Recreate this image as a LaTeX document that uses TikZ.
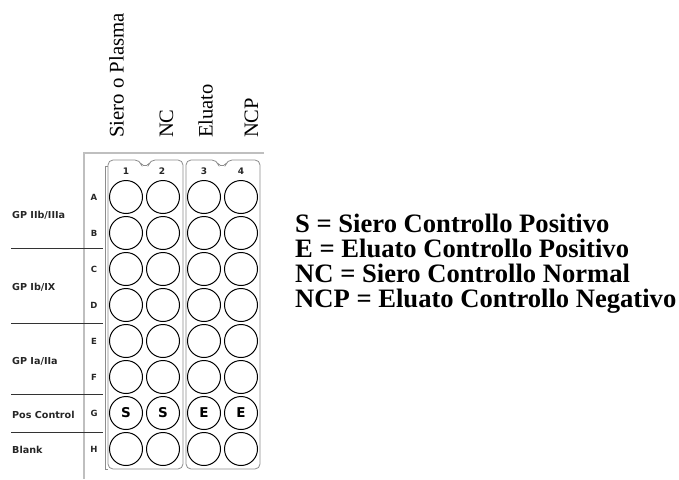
\documentclass[tikz,border=0pt]{standalone}
\usepackage{fontspec}
\setmainfont{Liberation Serif}
\newfontfamily\platefont{DejaVu Sans}
\begin{document}
\begin{tikzpicture}[x=1pt,y=-1pt,
  well/.style={draw=black,line width=1pt,circle,minimum size=33pt,inner sep=0pt,font=\platefont\bfseries\fontsize{13.5}{13.5}\selectfont},
  plab/.style={font=\platefont\bfseries\fontsize{9.6}{12}\selectfont,anchor=west,inner sep=0pt,text=black!85},
  rowlab/.style={font=\platefont\bfseries\fontsize{8.5}{10}\selectfont,inner sep=0pt,text=black!85},
  collab/.style={font=\platefont\bfseries\fontsize{9}{10}\selectfont,inner sep=0pt,text=black!85},
  divider/.style={draw=black!80,line width=1pt},
  frame/.style={draw=black!25,line width=1.3pt},
  stripline/.style={draw=black!45,line width=0.8pt},
  toplab/.style={rotate=90,anchor=base west,inner sep=0pt},
  legend/.style={font=\bfseries\fontsize{26.6}{25}\selectfont,anchor=base west,inner sep=0pt}
]
\useasboundingbox (0,0) rectangle (679,479);

% rotated column headings
\node[toplab,font=\fontsize{20.8}{20.8}\selectfont] (h1) at (123.5,138) {Siero o Plasma};
\node[toplab,font=\fontsize{20.5}{20.5}\selectfont] (h2) at (173,138) {NC};
\node[toplab,font=\fontsize{20.5}{20.5}\selectfont] (h3) at (212.5,138) {Eluato};
\node[toplab,font=\fontsize{20.5}{20.5}\selectfont] (h4) at (258,138) {NCP};

% outer frame
\draw[frame] (264,153) -- (84,153) -- (84,479);

% strip 1
\draw[stripline] (108,469) -- (108,165)
  [rounded corners=5pt] -- (108,160) -- (140,160)
  [rounded corners=2pt] -- (141.5,165.5) -- (148.5,165.5)
  [rounded corners=5pt] -- (150,160) -- (183,160) -- (183,469) -- cycle;
\draw[stripline] (108,166) -- (105,166) -- (105,469) -- (108,469);
% strip 2
\draw[stripline] (186,469)
  [rounded corners=5pt] -- (186,160) -- (217,160)
  [rounded corners=2pt] -- (218.5,165.5) -- (225.5,165.5)
  [rounded corners=5pt] -- (227,160) -- (260,160) -- (260,469) -- cycle;

% column numbers
\node[collab] (c1) at (126,171) {1};
\node[collab] (c2) at (162,171) {2};
\node[collab] (c3) at (204,171) {3};
\node[collab] (c4) at (241,171) {4};

% rows
\foreach \r/\i in {A/0,B/1,C/2,D/3,E/4,F/5,H/7}{
  \node[rowlab] (r\r) at (94,197+36*\i) {\r};
  \foreach \c/\x in {1/126,2/163,3/204,4/241}{
    \node[well] (w\r\c) at (\x,197+36*\i) {};
  }
}
\node[rowlab] (rG) at (94,413) {G};
\node[well] (wG1) at (126,413) {S};
\node[well] (wG2) at (163,413) {S};
\node[well] (wG3) at (204,413) {E};
\node[well] (wG4) at (241,413) {E};

% group labels and dividers
\node[plab] (g1) at (12,215) {GP IIb/IIIa};
\node[plab] (g2) at (12,287) {GP Ib/IX};
\node[plab] (g3) at (12,361) {GP Ia/IIa};
\node[plab] (g4) at (12,415) {Pos Control};
\node[plab] (g5) at (12,450) {Blank};
\draw[divider] (11,248) -- (103,248);
\draw[divider] (11,323) -- (103,323);
\draw[divider] (11,394) -- (103,394);
\draw[divider] (11,432) -- (103,432);

% legend
\node[legend] (l1) at (295,232.5) {S = Siero Controllo Positivo};
\node[legend] (l2) at (295,257.5) {E = Eluato Controllo Positivo};
\node[legend] (l3) at (295,282.5) {NC = Siero Controllo Normal};
\node[legend] (l4) at (295,307.5) {NCP = Eluato Controllo Negativo};
\end{tikzpicture}
\end{document}
